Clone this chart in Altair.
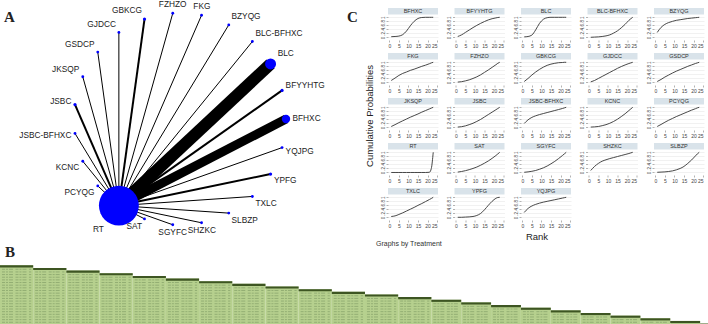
import altair as alt
import pandas as pd

# ---------------- data ----------------
treatments = ["BFHXC", "BFYYHTG", "BLC", "BLC-BFHXC", "BZYQG", "FKG", "FZHZO",
              "GBKCG", "GJDCC", "GSDCP", "JKSQP", "JSBC", "JSBC-BFHXC", "KCNC",
              "PCYQG", "RT", "SAT", "SGYFC", "SHZKC", "SLBZP", "TXLC", "YPFG", "YQJPG"]

# number of studies comparing each treatment with RT (RT itself: 0)
studies = [9, 2, 12, 1, 1, 1, 1,
           2, 1, 1, 1, 2, 1, 1,
           1, 0, 1, 1, 1, 1, 1, 2, 1]

# cumulative ranking probabilities at these ranks
ranks = [1, 3, 5, 7, 9, 11, 13, 15, 17, 19, 21, 22, 23]
cumprob = {
    "BFHXC":      [0.04, 0.05, 0.07, 0.14, 0.32, 0.58, 0.80, 0.94, 0.99, 1.00, 1.00, 1.00, 1.00],
    "BFYYHTG":    [0.05, 0.13, 0.25, 0.37, 0.49, 0.60, 0.70, 0.79, 0.87, 0.93, 0.97, 0.99, 1.00],
    "BLC":        [0.03, 0.05, 0.12, 0.38, 0.70, 0.90, 0.98, 1.00, 1.00, 1.00, 1.00, 1.00, 1.00],
    "BLC-BFHXC":  [0.01, 0.02, 0.03, 0.05, 0.08, 0.13, 0.22, 0.33, 0.48, 0.65, 0.85, 0.93, 1.00],
    "BZYQG":      [0.25, 0.50, 0.65, 0.74, 0.80, 0.85, 0.88, 0.91, 0.94, 0.96, 0.98, 0.99, 1.00],
    "FKG":        [0.10, 0.22, 0.35, 0.45, 0.52, 0.60, 0.66, 0.73, 0.80, 0.86, 0.93, 0.97, 1.00],
    "FZHZO":      [0.02, 0.04, 0.08, 0.13, 0.20, 0.28, 0.38, 0.50, 0.62, 0.75, 0.88, 0.95, 1.00],
    "GBKCG":      [0.05, 0.20, 0.37, 0.52, 0.65, 0.76, 0.85, 0.91, 0.95, 0.98, 0.99, 1.00, 1.00],
    "GJDCC":      [0.03, 0.10, 0.20, 0.30, 0.40, 0.50, 0.60, 0.70, 0.79, 0.87, 0.94, 0.97, 1.00],
    "GSDCP":      [0.05, 0.15, 0.27, 0.37, 0.47, 0.56, 0.64, 0.72, 0.80, 0.87, 0.94, 0.97, 1.00],
    "JKSQP":      [0.05, 0.14, 0.24, 0.33, 0.42, 0.51, 0.59, 0.67, 0.76, 0.84, 0.92, 0.96, 1.00],
    "JSBC":       [0.02, 0.04, 0.08, 0.14, 0.21, 0.30, 0.40, 0.52, 0.64, 0.76, 0.88, 0.94, 1.00],
    "JSBC-BFHXC": [0.20, 0.38, 0.50, 0.58, 0.64, 0.69, 0.74, 0.79, 0.84, 0.89, 0.94, 0.97, 1.00],
    "KCNC":       [0.02, 0.03, 0.05, 0.09, 0.14, 0.21, 0.30, 0.41, 0.54, 0.68, 0.84, 0.92, 1.00],
    "PCYQG":      [0.05, 0.15, 0.26, 0.36, 0.45, 0.54, 0.62, 0.70, 0.78, 0.86, 0.93, 0.97, 1.00],
    "RT":         [0.00, 0.00, 0.00, 0.00, 0.00, 0.00, 0.00, 0.00, 0.00, 0.00, 0.01, 0.20, 1.00],
    "SAT":        [0.02, 0.05, 0.09, 0.14, 0.20, 0.27, 0.36, 0.46, 0.57, 0.70, 0.84, 0.92, 1.00],
    "SGYFC":      [0.01, 0.03, 0.06, 0.10, 0.16, 0.23, 0.32, 0.43, 0.55, 0.69, 0.84, 0.92, 1.00],
    "SHZKC":      [0.10, 0.30, 0.45, 0.56, 0.63, 0.69, 0.74, 0.79, 0.84, 0.89, 0.94, 0.97, 1.00],
    "SLBZP":      [0.01, 0.02, 0.03, 0.05, 0.08, 0.13, 0.20, 0.30, 0.45, 0.62, 0.82, 0.92, 1.00],
    "TXLC":       [0.05, 0.08, 0.15, 0.23, 0.32, 0.41, 0.50, 0.60, 0.69, 0.79, 0.89, 0.94, 1.00],
    "YPFG":       [0.01, 0.01, 0.02, 0.03, 0.05, 0.10, 0.20, 0.38, 0.60, 0.80, 0.95, 0.99, 1.00],
    "YQJPG":      [0.25, 0.45, 0.57, 0.65, 0.71, 0.76, 0.80, 0.84, 0.88, 0.92, 0.96, 0.98, 1.00],
}

# league table columns (B): relative text width of each column
league_cols = list(range(23))
league_width = [10] * 13 + [9] * 10

# ---------------- layout ----------------
A_W, FULL_H, FULL_W = 388, 324, 708
CX, CY, RAD = 180, 116, 106          # network circle centre / radius (px)
CELL_W, CELL_H = 50, 37
UNIT = 3.318                          # px per text-width unit in the league strip
ROW_PX, B_TOP = 2.65, 262.3           # league strip row height / first row top (px)

SANS = "Liberation Sans"
SERIF = "Liberation Serif"

# ---------------- A: network plot ----------------
N = len(treatments)
rt_idx = treatments.index("RT")
nodes = pd.DataFrame({"treat": treatments, "idx": range(N), "n": studies})
nodes.loc[nodes.treat == "RT", "n"] = sum(studies)

xs = alt.Scale(domain=[-CX / RAD, (A_W - CX) / RAD], nice=False, zero=False)
ys = alt.Scale(domain=[-(FULL_H - CY) / RAD, CY / RAD], nice=False, zero=False)

base = alt.Chart(nodes).transform_calculate(
    ang=f"datum.idx * 2 * PI / {N}",
).transform_calculate(
    nx="cos(datum.ang)", ny="sin(datum.ang)",
    rx=f"cos({rt_idx} * 2 * PI / {N})", ry=f"sin({rt_idx} * 2 * PI / {N})",
    rpx="max(1.6, 0.5 * datum.n)",
).transform_calculate(
    side="datum.nx > 0.25 ? 1 : (datum.nx < -0.25 ? -1 : 0)",
    vs="clamp(2.5 * datum.ny, -1, 1)",
).transform_calculate(
    lx=f"datum.nx + (datum.nx * datum.rpx + 2 * datum.side) / {RAD}",
    ly=f"datum.ny + (datum.ny * datum.rpx + 6.5 * datum.vs) / {RAD}",
)

edges = base.transform_filter("datum.treat != 'RT'").mark_rule(
    color="black", strokeCap="butt"
).encode(
    x=alt.X("rx:Q", scale=xs, axis=None),
    y=alt.Y("ry:Q", scale=ys, axis=None),
    x2="nx:Q", y2="ny:Q",
    strokeWidth=alt.StrokeWidth("n:Q", scale=alt.Scale(domain=[0, 12], range=[0, 12]), legend=None),
)

node_marks = base.mark_circle(color="#0000ff", opacity=1).encode(
    x=alt.X("nx:Q", scale=xs, axis=None),
    y=alt.Y("ny:Q", scale=ys, axis=None),
    size=alt.Size("n:Q", scale=alt.Scale(type="pow", exponent=2, domain=[1, sum(studies)],
                                         range=[8, 1590]), legend=None),
)


def node_labels(cond, align):
    return base.transform_filter(cond).mark_text(
        align=align, baseline="middle", font=SANS, fontSize=8.3, color="#222222"
    ).encode(
        x=alt.X("lx:Q", scale=xs, axis=None),
        y=alt.Y("ly:Q", scale=ys, axis=None),
        text="treat:N",
    )


lab_r = node_labels("datum.side == 1", "left")
lab_l = node_labels("datum.side == -1", "right")
lab_c = node_labels("datum.side == 0", "center")

# ---------------- B: league table strip ----------------
edges_x = [0]
for w in league_width:
    edges_x.append(edges_x[-1] + w)
x_end = FULL_W / UNIT
blocks = pd.DataFrame({"col": league_cols, "x0": edges_x[:-1], "x1": edges_x[1:]})
blocks["x1"] = blocks["x1"].clip(upper=x_end)
blocks["top"] = blocks["col"]
blocks["bar"] = blocks["col"] + 0.8

row_max = (FULL_H - B_TOP) / ROW_PX
text_rows = []
for c, x0, x1 in zip(league_cols, edges_x[:-1], edges_x[1:]):
    r = c + 1.5
    while r < row_max - 0.2:
        text_rows.append({"col": c, "x0": x0 + 0.6, "x1": min(x1 - 0.6, x_end), "row": r})
        r += 1
text_df = pd.DataFrame(text_rows)

bx = alt.Scale(domain=[0, A_W / UNIT], nice=False, zero=False)
by = alt.Scale(domain=[-B_TOP / ROW_PX, row_max], nice=False, zero=False, reverse=True)

blk = alt.Chart(blocks).mark_rect(color="#b6d08e").encode(
    x=alt.X("x0:Q", scale=bx, axis=None), x2="x1:Q",
    y=alt.Y("top:Q", scale=by, axis=None), y2=alt.value(FULL_H),
)
bar = alt.Chart(blocks).mark_rect(color="#3d5522").encode(
    x=alt.X("x0:Q", scale=bx, axis=None), x2="x1:Q",
    y=alt.Y("top:Q", scale=by, axis=None), y2="bar:Q",
)
txt = alt.Chart(text_df).mark_rule(
    color="#6f8a58", opacity=0.55, strokeWidth=0.9, strokeDash=[3, 1, 2, 1, 4, 2.5]
).encode(
    x=alt.X("x0:Q", scale=bx, axis=None), x2="x1:Q",
    y=alt.Y("row:Q", scale=by, axis=None),
)


def note(txt_, x, y, size, font=SANS, weight="normal", align="left", angle=0,
         baseline="alphabetic", color="#222222"):
    return alt.Chart(pd.DataFrame({"t": [txt_]})).mark_text(
        align=align, baseline=baseline, font=font, fontSize=size, fontWeight=weight,
        angle=angle, color=color
    ).encode(x=alt.value(x), y=alt.value(y), text="t:N")


letters = [
    note("A", 4, 19, 15, SERIF, "bold"),
    note("B", 5, 254, 15, SERIF, "bold"),
    note("C", 347, 19, 15, SERIF, "bold"),
    note("Cumulative Probabilities", 370, 113, 9.5, align="center", angle=270, baseline="middle"),
    note("Rank", 537, 237, 9.5, align="center"),
    note("Graphs by Treatment", 376, 243, 7, color="#333333"),
]

network = alt.layer(edges, node_marks, lab_r, lab_l, lab_c)
strip = alt.layer(blk, txt, bar)
panel_ab = alt.layer(network, strip, *letters).resolve_scale(
    x="independent", y="independent"
).properties(width=A_W, height=FULL_H)

# ---------------- C: cumulative ranking curves ----------------
rows = []
for t in treatments:
    for r, p in zip(ranks, cumprob[t]):
        rows.append({"treat": t, "rank": r, "prob": p})
prob_df = pd.DataFrame(rows)

cx_scale = alt.Scale(domain=[-0.7, 25.5], nice=False, zero=False)
cy_scale = alt.Scale(domain=[-0.124, 1.708], nice=False, zero=False)

hdr_rect = alt.Chart().transform_filter("datum.rank == 1").mark_rect(color="#d9e3ea").encode(
    x=alt.value(0), x2=alt.value(CELL_W), y=alt.value(5), y2=alt.value(11.5)
)
hdr_text = alt.Chart().transform_filter("datum.rank == 1").mark_text(
    font=SANS, fontSize=5.5, color="#333333", baseline="middle"
).encode(x=alt.value(CELL_W / 2), y=alt.value(8.4), text="treat:N")

curve = alt.Chart().mark_line(interpolate="monotone", color="#333333", strokeWidth=0.9).encode(
    x=alt.X("rank:Q", scale=cx_scale, title=None,
            axis=alt.Axis(values=[0, 5, 10, 15, 20, 25], format="d", grid=False, domain=False,
                          tickSize=2, tickWidth=0.5, tickColor="#666666", labelFontSize=5,
                          labelFont=SANS, labelColor="#444444", labelPadding=1)),
    y=alt.Y("prob:Q", scale=cy_scale, title=None,
            axis=alt.Axis(values=[0, 0.2, 0.4, 0.6, 0.8, 1], domain=False, grid=True,
                          gridColor="#e8e8e8", gridWidth=0.6, tickSize=2, tickWidth=0.5,
                          tickColor="#666666", labelFontSize=4.6, labelFont=SANS,
                          labelColor="#444444", labelAngle=270, labelAlign="center",
                          labelBaseline="bottom", labelPadding=1,
                          labelExpr="datum.value == 0 ? '0' : (datum.value == 1 ? '1' : "
                                    "replace(format(datum.value, '.1f'), '0.', '.'))")),
)

panel_c = alt.layer(hdr_rect, hdr_text, curve, data=prob_df).properties(
    width=CELL_W, height=CELL_H
).facet(
    facet=alt.Facet("treat:N", title=None,
                    header=alt.Header(labels=False, labelExpr="''", labelFontSize=1, labelPadding=0)),
    columns=5,
    spacing={"row": 8, "column": 16.5},
    bounds="flush",
).resolve_axis(x="independent", y="independent")

# ---------------- assemble ----------------
chart = alt.hconcat(panel_ab, panel_c, spacing=0, bounds="flush").properties(
    padding=0, background="white"
).configure_view(stroke=None)

chart.save("out.html", embed_options={"renderer": "svg", "actions": False})
